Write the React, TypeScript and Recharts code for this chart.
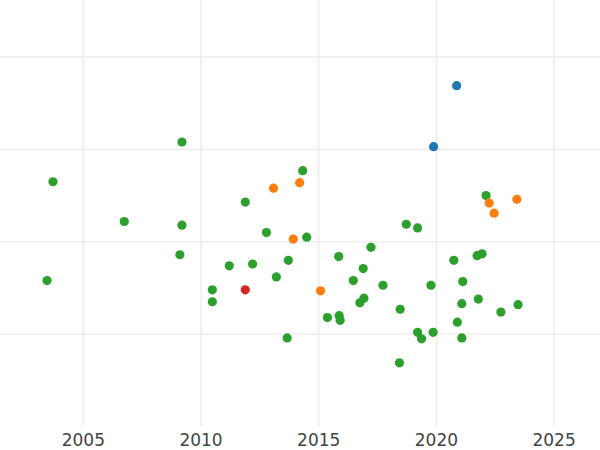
import React from "react";
import { ScatterChart, Scatter, XAxis, YAxis, CartesianGrid } from "recharts";

const xTicks = [2005, 2010, 2015, 2020, 2025];
const yTicks = [1, 2, 3, 4];

const greenYears = [
  2003.71, 2009.19, 2006.74, 2009.19, 2009.1, 2003.46, 2011.88, 2014.32, 2012.78, 2014.49,
  2011.2, 2012.19, 2013.71, 2013.2, 2010.48, 2010.48, 2013.66, 2015.85, 2016.47, 2015.37,
  2015.87, 2015.91, 2016.89, 2017.22, 2016.92, 2016.75, 2017.73, 2018.46, 2018.43, 2018.72,
  2019.2, 2019.2, 2019.37, 2019.77, 2019.86, 2020.74, 2020.89, 2021.08, 2021.08, 2021.12,
  2021.73, 2021.94, 2021.78, 2022.11, 2022.74, 2023.47,
];
const greenValues = [
  2.65, 3.08, 2.22, 2.18, 1.86, 1.58, 2.43, 2.77, 2.1, 2.05,
  1.74, 1.76, 1.8, 1.62, 1.48, 1.35, 0.96, 1.84, 1.58, 1.18,
  1.2, 1.15, 1.71, 1.94, 1.39, 1.34, 1.53, 1.27, 0.69, 2.19,
  2.15, 1.02, 0.95, 1.53, 1.02, 1.8, 1.13, 1.33, 0.96, 1.57,
  1.85, 1.87, 1.38, 2.5, 1.24, 1.32,
];

const orangeYears = [2013.08, 2014.19, 2013.92, 2015.08, 2022.24, 2023.42, 2022.45];
const orangeValues = [2.58, 2.64, 2.03, 1.47, 2.42, 2.46, 2.31];

const blueYears = [2020.86, 2019.88];
const blueValues = [3.69, 3.03];

const redYears = [2011.88];
const redValues = [1.48];

const toPoints = (xs: number[], ys: number[]) => xs.map((x, i) => ({ x, y: ys[i] }));

const Dot = (props: any) => (
  <circle cx={props.cx} cy={props.cy} r={4.6} fill={props.fill} />
);

export default function App() {
  return (
    <div style={{ position: "absolute", left: 0, top: 0, width: 600, height: 450, background: "#fff" }}>
      <ScatterChart width={600} height={450} margin={{ top: 0, right: 0, bottom: 0, left: 0 }}>
        <CartesianGrid stroke="#ebebeb" strokeWidth={1.3} syncWithTicks />
        <XAxis
          type="number"
          dataKey="x"
          domain={[2001.46, 2026.95]}
          ticks={xTicks}
          allowDataOverflow
          axisLine={false}
          tickLine={false}
          height={24}
          tick={{ fill: "#444", fontSize: 17, fontFamily: "DejaVu Sans" }}
        />
        <YAxis
          type="number"
          dataKey="y"
          domain={[0.0065, 4.617]}
          ticks={yTicks}
          allowDataOverflow
          hide
        />
        <Scatter data={toPoints(greenYears, greenValues)} fill="#2ca02c" shape={<Dot />} isAnimationActive={false} />
        <Scatter data={toPoints(orangeYears, orangeValues)} fill="#ff7f0e" shape={<Dot />} isAnimationActive={false} />
        <Scatter data={toPoints(blueYears, blueValues)} fill="#1f77b4" shape={<Dot />} isAnimationActive={false} />
        <Scatter data={toPoints(redYears, redValues)} fill="#d62728" shape={<Dot />} isAnimationActive={false} />
      </ScatterChart>
    </div>
  );
}
